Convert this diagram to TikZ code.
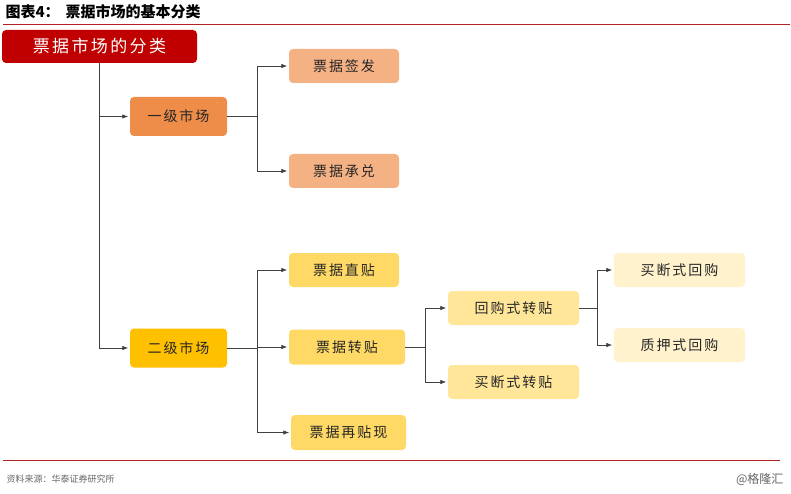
\documentclass[tikz,border=0pt]{standalone}
\usepackage{fontspec}
\newfontfamily\cjk[LetterSpace=14]{Noto Sans CJK SC}
\newfontfamily\cjkplain{Noto Sans CJK SC}
\usetikzlibrary{arrows.meta}
\definecolor{rootred}{HTML}{C00000}
\definecolor{rulered}{HTML}{B22222}
\definecolor{lvlone}{HTML}{EE8C4A}
\definecolor{lvloneleaf}{HTML}{F4B183}
\definecolor{lvltwo}{HTML}{FFC000}
\definecolor{lvltwoleaf}{HTML}{FFD966}
\definecolor{zhuanleaf}{HTML}{FFE699}
\definecolor{huigouleaf}{HTML}{FFF2CC}

\begin{document}
\begin{tikzpicture}[x=1pt,y=-1pt,
    box/.style={rounded corners=4pt, minimum height=34pt, inner sep=0pt,
      text=black!85, font=\cjk\fontsize{14}{16}\selectfont},
    link/.style={draw=black!75, line width=0.8pt},
    arr/.style={link, -{Latex[length=6pt,width=4.5pt]}, shorten >=1.5pt}]
  \useasboundingbox[fill=white] (0,0) rectangle (791,494);

  % title and rules
  \node[anchor=west, font=\cjkplain\bfseries\fontsize{15}{17}\selectfont] (title) at (2,12) {图表4：\hspace{6pt}票据市场的基本分类};
  \draw[rulered, line width=0.8pt] (3,24) -- (790,24);
  \draw[rulered, line width=0.8pt] (3,460) -- (780,460);
  \node[anchor=west, text=black!60, font=\cjkplain\fontsize{9}{11}\selectfont] (source) at (3,479) {资料来源：华泰证券研究所};
  \node[anchor=east, text=black!60, font=\cjkplain\fontsize{12}{14}\selectfont] (mark) at (787,479) {@格隆汇};

  % boxes
  \node[box, fill=rootred, text=white, minimum width=195pt, minimum height=33pt,
    font=\cjk\fontsize{17}{19}\selectfont] (root) at (99.5,46.5) {票据市场的分类};
  \node[box, fill=lvlone, minimum width=97pt, minimum height=39pt] (yiji) at (178.5,116.5) {一级市场};
  \node[box, fill=lvloneleaf, minimum width=110pt] (qianfa) at (344,66) {票据签发};
  \node[box, fill=lvloneleaf, minimum width=110pt] (chengdui) at (344,171) {票据承兑};
  \node[box, fill=lvltwo, minimum width=97pt, minimum height=39pt] (erji) at (178.5,348) {二级市场};
  \node[box, fill=lvltwoleaf, minimum width=110pt] (zhitie) at (344,270) {票据直贴};
  \node[box, fill=lvltwoleaf, minimum width=116pt, minimum height=35pt] (zhuantie) at (347,347) {票据转贴};
  \node[box, fill=lvltwoleaf, minimum width=115pt, minimum height=35pt] (zaitiexian) at (348.5,432.5) {票据再贴现};
  \node[box, fill=zhuanleaf, minimum width=131pt] (huigouzt) at (513.5,308) {回购式转贴};
  \node[box, fill=zhuanleaf, minimum width=131pt] (maiduanzt) at (513.5,382) {买断式转贴};
  \node[box, fill=huigouleaf, minimum width=131pt] (maiduanhg) at (679.5,270) {买断式回购};
  \node[box, fill=huigouleaf, minimum width=131pt] (zhiyahg) at (679.5,345) {质押式回购};

  % branch points
  \coordinate (byiji) at (257,116.5);
  \coordinate (berji) at (257,348);
  \coordinate (bzhuan) at (425,347);
  \coordinate (bhuigou) at (597,308);

  % connectors
  \draw[arr] (root.south) |- (yiji.west);
  \draw[arr] (root.south) |- (erji.west);
  \draw[link] (yiji.east) -- (byiji);
  \draw[arr] (byiji) |- (qianfa.west);
  \draw[arr] (byiji) |- (chengdui.west);
  \draw[link] (erji.east) -- (berji);
  \draw[arr] (berji) |- (zhitie.west);
  \draw[arr] (berji) |- (zhuantie.west);
  \draw[arr] (berji) |- (zaitiexian.west);
  \draw[link] (zhuantie.east) -- (bzhuan);
  \draw[arr] (bzhuan) |- (huigouzt.west);
  \draw[arr] (bzhuan) |- (maiduanzt.west);
  \draw[link] (huigouzt.east) -- (bhuigou);
  \draw[arr] (bhuigou) |- (maiduanhg.west);
  \draw[arr] (bhuigou) |- (zhiyahg.west);
\end{tikzpicture}
\end{document}
